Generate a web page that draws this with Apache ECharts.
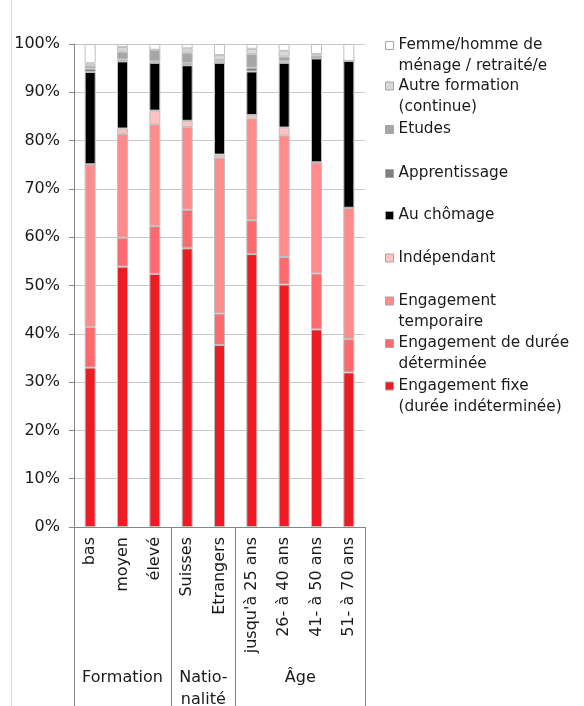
<!DOCTYPE html>
<html>
<head>
<meta charset="utf-8">
<style>
    html, body { margin: 0; padding: 0; background: #fff; }
    #chart { width: 584px; height: 706px; }
</style>
</head>
<body>
<div id="chart"></div>
<script src="https://cdn.jsdelivr.net/npm/echarts@6/dist/echarts.min.js"></script>
<script>
// categories
var categories = ['bas', 'moyen', 'élevé', 'Suisses', 'Etrangers', "jusqu'à 25 ans", '26- à 40 ans', '41- à 50 ans', '51- à 70 ans'];
var groupNames = ['Formation', 'Natio-\nnalité', 'Âge'];
var groupCenters = [1.5, 4, 7];
var groupBounds = [0, 3, 5, 9];

// valeurs en %
var fixe = [33.0, 53.9, 52.4, 57.7, 37.7, 56.5, 50.2, 40.9, 32.0];
var determinee = [8.4, 6.0, 9.9, 8.0, 6.5, 7.0, 5.7, 11.6, 6.9];
var temporaire = [33.7, 21.5, 21.1, 17.1, 32.3, 21.1, 25.2, 23.0, 27.2];
var independant = [0, 1.1, 2.8, 1.3, 0.6, 0.7, 1.6, 0, 0];
var chomage = [19.1, 13.9, 9.9, 11.5, 19.0, 9.0, 13.4, 21.5, 30.4];
var apprentissage = [0.7, 0.4, 0.3, 0.5, 0.3, 0.8, 0.3, 0, 0];
var etudes = [0.6, 1.6, 2.4, 2.1, 0.3, 2.8, 1.0, 0.6, 0];
var autreFormation = [0.5, 1.0, 0, 0.9, 1.0, 1.1, 1.2, 0.3, 0];
var menage = [4.0, 0.6, 1.2, 0.9, 2.3, 1.0, 1.4, 2.1, 3.5];

var seriesNames = [
    'Engagement fixe\n(durée indéterminée)',
    'Engagement de durée\ndéterminée',
    'Engagement\ntemporaire',
    'Indépendant',
    'Au chômage',
    'Apprentissage',
    'Etudes',
    'Autre formation\n(continue)',
    'Femme/homme de\nménage / retraité/e'
];
var seriesData = [fixe, determinee, temporaire, independant, chomage, apprentissage, etudes, autreFormation, menage];
var colors = ['#ED1C24', '#FF6A70', '#FF8C8C', '#FFC3C3', '#000000', '#7F7F7F', '#A6A6A6', '#D9D9D9', '#FFFFFF'];

var font = 'DejaVu Sans';
var fontSize = 16;
var textColor = '#1a1a1a';

var chart = echarts.init(document.getElementById('chart'));

// legende : une par entree, icone alignee sur la premiere ligne
var legendTops = [386, 343.5, 301, 258, 215.5, 173.5, 129.5, 86, 45.5];
var legends = [];
for (var i = 0; i < seriesNames.length; i++) {
    var multi = seriesNames[i].indexOf('\n') >= 0;
    legends.push({
        data: [seriesNames[i]],
        left: 385,
        top: multi ? legendTops[i] - 31.5 : legendTops[i] - 10.5,
        orient: 'vertical',
        icon: 'rect',
        itemWidth: 8,
        itemHeight: 8,
        itemGap: 0,
        padding: 0,
        selectedMode: false,
        itemStyle: { borderColor: '#a6a6a6', borderWidth: 1 },
        formatter: function (name) {
            return name.indexOf('\n') >= 0 ? '\n' + name : name;
        },
        textStyle: { fontFamily: font, fontSize: 15.3, color: textColor, lineHeight: 21 }
    });
}

var series = [];
for (var s = 0; s < seriesNames.length; s++) {
    series.push({
        name: seriesNames[s],
        type: 'bar',
        stack: 'total',
        barWidth: 11,
        data: seriesData[s],
        itemStyle: { color: colors[s], borderColor: '#bfbfbf', borderWidth: 1 }
    });
}

chart.setOption({
    animation: false,
    backgroundColor: '#fff',
    legend: legends,
    grid: { left: 74, right: 219, top: 44, bottom: 179, containLabel: false, outerBoundsMode: 'none' },
    xAxis: [{
        type: 'category',
        data: categories,
        axisLine: { lineStyle: { color: '#868686' } },
        axisTick: { length: 128, interval: 0, lineStyle: { color: '#868686' } },
        axisLabel: { interval: 0, rotate: 90, margin: 10, fontFamily: font, fontSize: fontSize, color: textColor }
    }, {
        type: 'value',
        min: 0,
        max: 9,
        position: 'bottom',
        axisLine: { show: false },
        splitLine: { show: false },
        axisTick: { show: true, length: 179, customValues: groupBounds, lineStyle: { color: '#868686' } },
        axisLabel: {
            customValues: groupCenters,
            margin: 140,
            fontFamily: font, fontSize: fontSize, color: textColor, lineHeight: 22,
            formatter: function (v) { return groupNames[groupCenters.indexOf(v)]; }
        }
    }],
    yAxis: {
        type: 'value',
        min: 0,
        max: 100,
        interval: 10,
        axisLine: { show: true, lineStyle: { color: '#868686' } },
        axisTick: { show: true, length: 5, lineStyle: { color: '#868686' } },
        splitLine: { lineStyle: { color: '#c8c8c8' } },
        axisLabel: { formatter: '{value}%', margin: 14, fontFamily: font, fontSize: fontSize, color: textColor }
    },
    graphic: [{
        type: 'line',
        shape: { x1: 11.5, y1: 0, x2: 11.5, y2: 706 },
        style: { stroke: '#d9d9d9', lineWidth: 1 }
    }],
    series: series
});
</script>
</body>
</html>
